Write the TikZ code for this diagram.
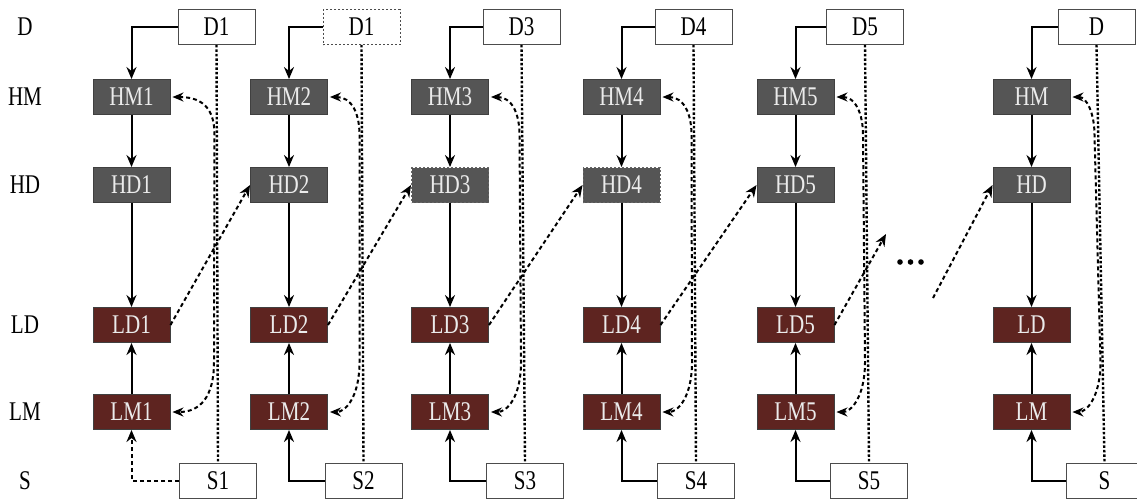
\documentclass[tikz,border=0pt]{standalone}
\usepackage{fontspec}
\setmainfont{Liberation Serif}[FakeStretch=0.78]
\usetikzlibrary{arrows.meta,calc}
\definecolor{hbox}{HTML}{555555}
\definecolor{lbox}{HTML}{5E2420}
\begin{document}
\begin{tikzpicture}[x=1pt,y=1pt,
  bx/.style={minimum width=77pt,minimum height=35pt,inner sep=0pt,line width=0.9pt,font=\fontsize{27}{27}\selectfont},
  hb/.style={bx,fill=hbox,draw=black!75,text=white!92!black},
  lb/.style={bx,fill=lbox,draw=black!75,text=white!92!black},
  wb/.style={bx,fill=white,draw=black!70},
  lab/.style={font=\fontsize{27}{27}\selectfont},
  plainb/.style={},
  dotb/.style={dash pattern=on 2pt off 2pt,draw=black!70},
  dotbh/.style={dash pattern=on 2pt off 2pt,draw=black!60},
  arr/.style={line width=2pt,-{Stealth[length=12pt,width=10pt]}},
  dsh/.style={line width=2pt,dash pattern=on 4pt off 3pt},
  plainl/.style={},
  dot/.style={line width=2.4pt,dash pattern=on 2.5pt off 2pt},
  dtip/.style={{Stealth[length=11pt,width=9pt]}-{Stealth[length=11pt,width=9pt]}}]
\useasboundingbox (0,0) rectangle (1137,-499);

\node[lab] (rD)  at (25,-27)  {D};
\node[lab] (rHM) at (25,-97)  {HM};
\node[lab] (rHD) at (25,-185) {HD};
\node[lab] (rLD) at (25,-325) {LD};
\node[lab] (rLM) at (25,-412) {LM};
\node[lab] (rS)  at (25,-480.5) {S};

\foreach \c/\cx/\dx/\sx/\n/\dn/\dst/\hst/\sst in {
  1/131.5/216.5/218/1/D1/plainb/plainb/dsh,
  2/289/361.5/363.5/2/D1/dotb/plainb/plainl,
  3/450/521.5/525/3/D3/plainb/dotbh/plainl,
  4/621.5/693.5/696/4/D4/plainb/dotbh/plainl,
  5/795.5/865/869/5/D5/plainb/plainb/plainl,
  6/1031.5/1096.5/1104.5/{}/D/plainb/plainb/plainl}{
  \node[wb,\dst] (D\c) at (\dx,-27) {\dn};
  \node[hb] (HM\c) at (\cx,-97) {HM\n};
  \node[hb,\hst] (HD\c) at (\cx,-185) {HD\n};
  \node[lb] (LD\c) at (\cx,-325) {LD\n};
  \node[lb] (LM\c) at (\cx,-412) {LM\n};
  \node[wb] (S\c) at (\sx,-480.5) {S\n};
  \draw[arr] (D\c.west) -| (HM\c.north);
  \draw[arr] (HM\c) -- (HD\c);
  \draw[arr] (HD\c) -- (LD\c);
  \draw[arr] (LM\c) -- (LD\c);
  \draw[arr,\sst] (S\c.west) -| (LM\c.south);
  \draw[dot] (D\c.south) -- (S\c.north);
  \coordinate (a\c) at ($(HM\c.east -| D\c.south)+(-2,-38)$);
  \coordinate (b\c) at ($(LM\c.east -| S\c.north)+(-4,50)$);
  \draw[dsh,dtip,shorten <=2pt,shorten >=2pt] (HM\c.east) .. controls ($(HM\c.east -| a\c)+(-8,0)$) and ($(a\c)+(0,22)$) .. (a\c) -- (b\c) .. controls ($(b\c)+(0,-35)$) and ($(LM\c.east -| b\c)+(-14,0)$) .. (LM\c.east);
}

\foreach \i/\j in {1/2,2/3,3/4,4/5}{
  \draw[dsh,arr] (LD\i.east) -- (HD\j.west);
}
\coordinate (e5) at (886,-234);
\draw[dsh,arr] (LD5.east) -- (e5);
\coordinate (s6) at (933,-298);
\draw[dsh,arr] (s6) -- (HD6.west);

\fill (900,-262) circle (2.8);
\fill (910.5,-262) circle (2.8);
\fill (921,-262) circle (2.8);
\end{tikzpicture}
\end{document}
